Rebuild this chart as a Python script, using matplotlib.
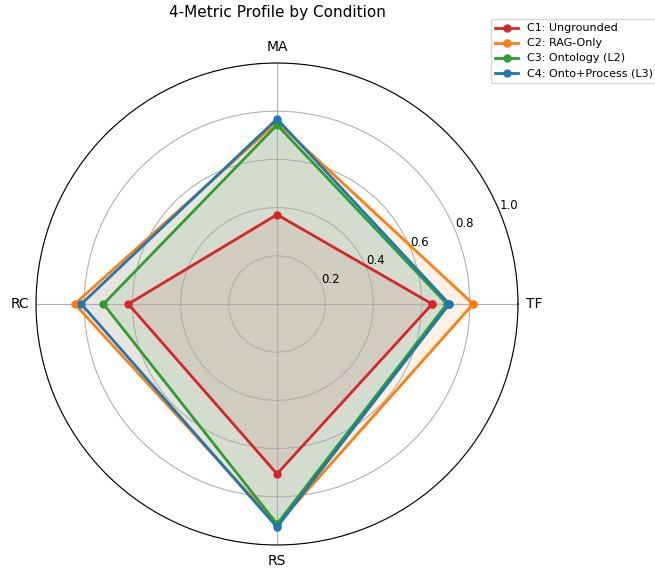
import numpy as np
import matplotlib
matplotlib.use('Agg')
import matplotlib.pyplot as plt

metrics = ['TF', 'MA', 'RC', 'RS']
conditions = ['C1: Ungrounded', 'C2: RAG-Only', 'C3: Ontology (L2)', 'C4: Onto+Process (L3)']
colors = ['#d62728', '#ff7f0e', '#2ca02c', '#1f77b4']

c1_vals = [0.644, 0.371, 0.617, 0.705]
c2_vals = [0.814, 0.755, 0.839, 0.915]
c3_vals = [0.705, 0.743, 0.720, 0.913]
c4_vals = [0.715, 0.768, 0.812, 0.926]
all_vals = [c1_vals, c2_vals, c3_vals, c4_vals]

angles = np.linspace(0, 2 * np.pi, len(metrics), endpoint=False).tolist()
angles += angles[:1]

fig = plt.figure(figsize=(6.55, 5.69), dpi=100)
ax = fig.add_axes([36/655, 24/569, 482/655, 482/569], polar=True)

for name, vals, col in zip(conditions, all_vals, colors):
    v = vals + vals[:1]
    ax.plot(angles, v, 'o-', color=col, linewidth=2, markersize=5, label=name)
    ax.fill(angles, v, color=col, alpha=0.1)

ax.set_xticks(angles[:-1])
ax.set_xticklabels(metrics, fontsize=10)
ax.set_ylim(0, 1)
ax.set_yticks([0.2, 0.4, 0.6, 0.8, 1.0])
ax.set_yticklabels(['0.2', '0.4', '0.6', '0.8', '1.0'], fontsize=8.5)
ax.tick_params(axis='x', pad=1)

fig.suptitle('4-Metric Profile by Condition', x=277/655, y=1-13/569,
             va='center', fontsize=11)
ax.legend(loc='upper right', bbox_to_anchor=(657/655, 1-19/569),
          bbox_transform=fig.transFigure, fontsize=8, labelspacing=0.45,
          borderaxespad=0)

plt.savefig('out.png', dpi=100)
